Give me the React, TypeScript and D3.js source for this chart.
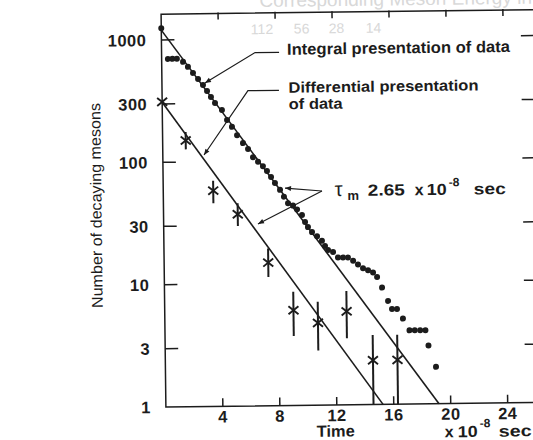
import React from "react";
import * as d3 from "d3";

// ---- data ----
const yTickValues = [1, 3, 10, 30, 100, 300, 1000];
const yTickLabels = ["1", "3", "10", "30", "100", "300", "1000"];
const xTickValues = [4, 8, 12, 16, 20, 24];
const xTickLabels = ["4", "8", "12", "16", "20", "24"];
const topEnergyLabels = ["112", "56", "28", "14"];

// integral presentation (dots): time (x10^-8 s) and count
const integralTime = [0, 0.44, 0.76, 1.07, 1.5, 1.84, 2.19, 2.54, 2.88, 3.16, 3.43, 3.71, 4.19, 4.54, 4.88, 5.23, 5.64, 5.99, 6.33, 6.68, 7.02, 7.3, 7.58, 7.85, 8.2, 8.47, 8.75, 9.1, 9.38, 9.72, 9.93, 10.13, 10.41, 10.76, 11.1, 11.31, 11.52, 11.87, 12.21, 12.56, 12.91, 13.27, 13.61, 13.96, 14.31, 14.66, 14.94, 15.28, 15.69, 15.96, 16.31, 16.72, 17.17, 17.54, 17.92, 18.29, 18.49, 19.0];
const integralCount = [1250, 700, 700, 700, 660, 600, 535, 476, 425, 379, 338, 302, 264, 219, 192, 164, 141, 126, 108, 99, 91, 83, 74, 66, 58, 51, 45, 43, 40, 36, 31.5, 28.6, 26, 24, 22, 20, 18.5, 17.8, 16, 16, 16, 15, 14, 13, 12.5, 12, 11, 9, 7, 6, 6, 5, 4, 4, 4, 4, 3, 2];

// differential presentation (crosses with error bars)
const diffTime = [0, 1.62, 3.51, 5.21, 7.31, 9.04, 10.75, 12.77, 14.58, 16.3];
const diffCount = [312, 150, 58, 37, 14.8, 6, 4.7, 5.8, 2.3, 2.3];
const diffHigh = [312, 176, 70, 45.5, 19.3, 8.5, 7.0, 8.5, 3.7, 3.7];
const diffLow = [312, 127, 45.7, 29.7, 11.3, 3.7, 2.8, 3.5, 1, 1];

// exponential fits (tau ~ 2.65 x 10^-8 s)
const integralFitTime = [0, 19.18];
const integralFitCount = [1205, 1];
const diffFitTime = [0, 15.25];
const diffFitCount = [310, 1];

// ---- layout ----
const W = 533;
const H = 440;
const FONT = "'Liberation Sans', Arial, Helvetica, sans-serif";
const INK = "#1c1c1c";
const GHOST = "#d8d8d8";

export default function App() {
  const x = d3.scaleLinear().domain([0, 24]).range([163.5, 505.3]);
  const y = d3.scaleLog().domain([1, 1000]).range([404.8, 37.8]);
  const left = x(0);
  const right = 537;
  const top = 12;
  const bottom = y(1);

  const line = d3
    .line<[number, number]>()
    .x((d) => x(d[0]))
    .y((d) => y(d[1]));

  const integralFit = line(integralFitTime.map((t, i) => [t, integralFitCount[i]] as [number, number])) || "";
  const diffFit = line(diffFitTime.map((t, i) => [t, diffFitCount[i]] as [number, number])) || "";

  const ghostX = [253, 296, 331, 368];

  return (
    <svg
      width={W}
      height={H}
      style={{ position: "absolute", left: 0, top: 0, background: "#fff" }}
      fontFamily={FONT}
    >
      <defs>
        <marker
          id="arr"
          viewBox="0 0 10 10"
          refX="10"
          refY="5"
          markerWidth="8"
          markerHeight="6"
          markerUnits="userSpaceOnUse"
          orient="auto"
        >
          <path d="M0,1 L10,5 L0,9 z" fill={INK} />
        </marker>
      </defs>
      <rect x={0} y={0} width={W} height={H} fill="#fff" />
      <g transform="rotate(-0.7, 345, 210)">
        {/* faint top axis text */}
        <text x={262} y={6} fontSize={19} fill={GHOST}>
          Corresponding Meson Energy in MeV
        </text>
        {topEnergyLabels.map((s, i) => (
          <text key={"g" + s} x={ghostX[i]} y={33} fontSize={14} fill={GHOST}>
            {s}
          </text>
        ))}

        {/* frame */}
        <path
          d={`M${right},${top}L${left},${top}L${left},${bottom}L${right},${bottom}`}
          fill="none"
          stroke={INK}
          strokeWidth={1.5}
        />
        {/* left / right ticks */}
        {yTickValues.slice(1).map((v) => (
          <g key={"yt" + v}>
            <line x1={left} x2={left + 13} y1={y(v)} y2={y(v)} stroke={INK} strokeWidth={1.5} />
            <line x1={right} x2={right - 14} y1={y(v)} y2={y(v)} stroke={INK} strokeWidth={1.5} />
          </g>
        ))}
        {yTickValues.map((v, i) => (
          <text
            key={"yl" + v}
            x={left - 15}
            y={y(v)}
            dy="0.36em"
            textAnchor="end"
            fontSize={16.5}
            fontWeight="bold"
            letterSpacing={0.5}
            fill={INK}
          >
            {yTickLabels[i]}
          </text>
        ))}
        {/* bottom / top ticks */}
        {xTickValues.map((v, i) => (
          <g key={"xt" + v}>
            <line x1={x(v)} x2={x(v)} y1={bottom} y2={bottom - 8} stroke={INK} strokeWidth={1.5} />
            <line x1={x(v)} x2={x(v)} y1={top - 1} y2={top + 6} stroke={INK} strokeWidth={1.5} />
            <text
              x={x(v)}
              y={421}
              textAnchor="middle"
              fontSize={16.5}
              fontWeight="bold"
              letterSpacing={0.4}
              fill={INK}
            >
              {xTickLabels[i]}
            </text>
          </g>
        ))}

        {/* axis titles */}
        <text x={333} y={436.5} textAnchor="middle" fontSize={16} fontWeight="bold" textLength={38} lengthAdjust="spacingAndGlyphs" fill={INK}>
          Time
        </text>
        <text x={442} y={438.5} fontSize={16} fontWeight="bold" fill={INK}>x</text>
        <text x={455} y={438.5} fontSize={16} fontWeight="bold" textLength={20} lengthAdjust="spacingAndGlyphs" fill={INK}>
          10
        </text>
        <text x={477} y={429} fontSize={12} fontWeight="bold" fill={INK}>-8</text>
        <text x={496} y={438.5} fontSize={16} fontWeight="bold" textLength={33} lengthAdjust="spacingAndGlyphs" fill={INK}>
          sec
        </text>
        <text
          transform="translate(101.5,202.5) rotate(-90)"
          textAnchor="middle"
          fontSize={15.5}
          textLength={205}
          lengthAdjust="spacingAndGlyphs"
          fill={INK}
        >
          Number of decaying mesons
        </text>

        {/* fitted lines */}
        <path d={integralFit} fill="none" stroke={INK} strokeWidth={1.6} />
        <path d={diffFit} fill="none" stroke={INK} strokeWidth={1.6} />

        {/* integral dots */}
        {integralTime.map((t, i) => (
          <circle key={"d" + i} cx={x(t)} cy={y(integralCount[i])} r={3} fill={INK} />
        ))}

        {/* differential crosses with error bars */}
        {diffTime.map((t, i) => {
          const cx = x(t);
          const cy = y(diffCount[i]);
          return (
            <g key={"x" + i} stroke={INK}>
              <line x1={cx} x2={cx} y1={y(diffHigh[i])} y2={y(diffLow[i])} strokeWidth={2} />
              <path
                d={`M${cx - 5},${cy - 4}L${cx + 5},${cy + 4}M${cx - 5},${cy + 4}L${cx + 5},${cy - 4}`}
                strokeWidth={1.9}
                fill="none"
              />
            </g>
          );
        })}

        {/* annotations */}
        <text x={289} y={54} fontSize={16} fontWeight="bold" textLength={223} lengthAdjust="spacingAndGlyphs" fill={INK}>
          Integral presentation of data
        </text>
        <polyline
          points="281,51.5 257,51.5 206.5,81.3"
          fill="none"
          stroke={INK}
          strokeWidth={1.2}
          markerEnd="url(#arr)"
        />
        <text x={290} y={92} fontSize={15} fontWeight="bold" textLength={190} lengthAdjust="spacingAndGlyphs" fill={INK}>
          Differential presentation
        </text>
        <text x={290} y={108.5} fontSize={15} fontWeight="bold" textLength={54} lengthAdjust="spacingAndGlyphs" fill={INK}>
          of data
        </text>
        <polyline
          points="280.4,89.5 249.4,89.5 204.7,153.3"
          fill="none"
          stroke={INK}
          strokeWidth={1.2}
          markerEnd="url(#arr)"
        />

        {/* tau label */}
        <line x1={322.2} y1={190.7} x2={285.3} y2={187.3} stroke={INK} strokeWidth={1.2} markerEnd="url(#arr)" />
        <line x1={322.2} y1={190.7} x2={257.8} y2={222.9} stroke={INK} strokeWidth={1.2} markerEnd="url(#arr)" />
        <text x={335} y={196} fontSize={20} fill={INK}>τ</text>
        <text x={347.5} y={200} fontSize={13} fontWeight="bold" fill={INK}>m</text>
        <text x={368} y={196} fontSize={16} fontWeight="bold" textLength={37} lengthAdjust="spacingAndGlyphs" fill={INK}>
          2.65
        </text>
        <text x={415} y={196} fontSize={16} fontWeight="bold" fill={INK}>x</text>
        <text x={427} y={196} fontSize={16} fontWeight="bold" textLength={20} lengthAdjust="spacingAndGlyphs" fill={INK}>
          10
        </text>
        <text x={449} y={187.5} fontSize={12} fontWeight="bold" fill={INK}>-8</text>
        <text x={474} y={196} fontSize={16} fontWeight="bold" textLength={32} lengthAdjust="spacingAndGlyphs" fill={INK}>
          sec
        </text>
      </g>
    </svg>
  );
}
